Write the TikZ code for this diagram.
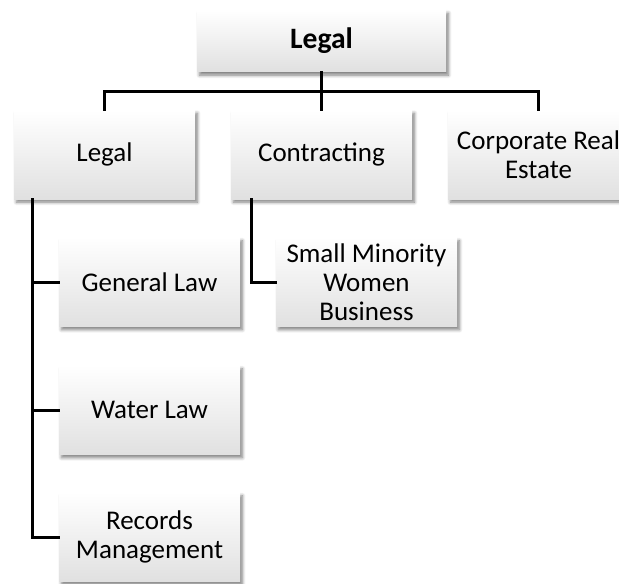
\documentclass[tikz,border=0pt]{standalone}
\usepackage{fontspec}
\setmainfont{Carlito}
\usetikzlibrary{shadows.blur}
\tikzset{
  orgbox/.style={rectangle, minimum width=90.5pt, minimum height=44.5pt, inner sep=1pt,
    align=center, top color=white, middle color=white, bottom color=black!12,
    font=\fontsize{13.5}{14.5}\selectfont,
    blur shadow={shadow xshift=1.2pt, shadow yshift=-1.6pt, shadow blur steps=6, shadow opacity=50, shadow blur radius=1.6pt}},
  topbox/.style={orgbox, minimum width=124.5pt, minimum height=31pt, font=\fontsize{14.8}{16}\selectfont\bfseries},
  conn/.style={line width=1.5pt, line cap=rect}
}
\begin{document}
\begin{tikzpicture}[x=0.5pt, y=-0.5pt]
\useasboundingbox (0,0) rectangle (619,583);
\node[topbox] (top) at (321.5,41) {Legal};
\node[orgbox] (legal) at (104.5,154.5) {Legal};
\node[orgbox] (contracting) at (321.5,154.5) {Contracting};
\node[orgbox] (corp) at (538.5,154.5) {Corporate Real\\Estate};
\node[orgbox] (general) at (149.5,282) {General Law};
\node[orgbox] (water) at (149.5,410) {Water Law};
\node[orgbox] (records) at (149.5,537) {Records\\Management};
\node[orgbox] (small) at (366.5,282) {Small Minority\\Women\\Business};
\coordinate (bus) at (104.5,91);
\coordinate (ltrunk) at (32,199);
\coordinate (ctrunk) at (251,199);
\draw[conn] (top.south) -- (contracting.north);
\draw[conn] (legal.north) -- (legal.north |- bus) -- (corp.north |- bus) -- (corp.north);
\draw[conn] (ltrunk) |- (records.west);
\draw[conn] (ltrunk |- general.west) -- (general.west);
\draw[conn] (ltrunk |- water.west) -- (water.west);
\draw[conn] (ctrunk) |- (small.west);
\end{tikzpicture}
\end{document}
